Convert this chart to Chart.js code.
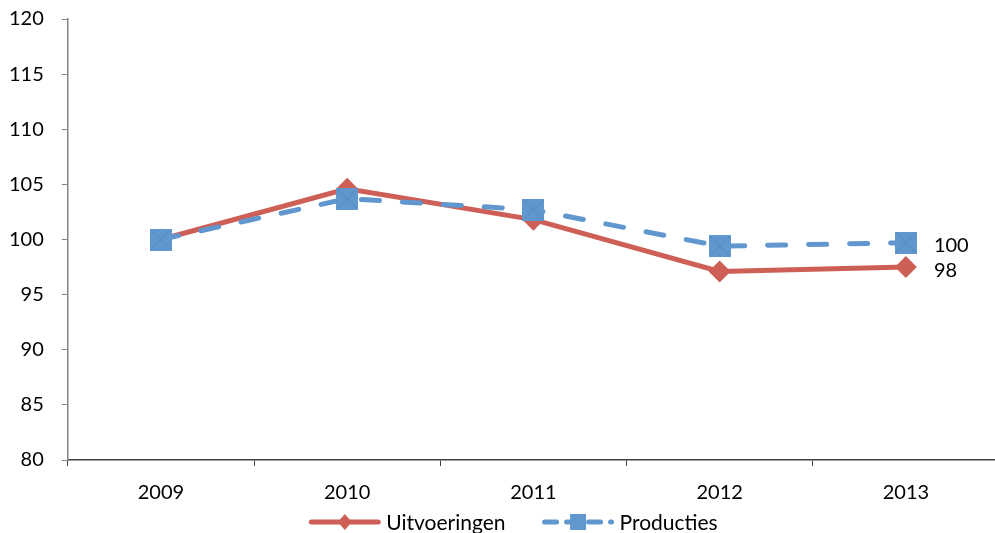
<!DOCTYPE html>
<html>
<head>
<meta charset="utf-8">
<script src="https://cdn.jsdelivr.net/npm/chart.js@4/dist/chart.umd.min.js"></script>
<style>
html,body{margin:0;padding:0;background:#fff;overflow:hidden;}
#wrap{width:1010px;height:544px;position:relative;top:-11px;}
</style>
</head>
<body>
<div id="wrap"><canvas id="c" width="1010" height="544"></canvas></div>
<script>
const years = ['2009','2010','2011','2012','2013'];
const uitvoeringen = [100, 104.6, 101.8, 97.1, 97.5];
const producties = [100, 103.7, 102.7, 99.4, 99.7];
const seriesNames = ['Uitvoeringen', 'Producties'];
const endLabels = ['98', '100'];
const yTicks = [80, 85, 90, 95, 100, 105, 110, 115, 120];

const RED = '#CE5F57';
const BLUE = '#5F97CE';
const FONT = 'Lato, "Open Sans", sans-serif';

function squareMarker(size) {
  const c = document.createElement('canvas');
  c.width = size; c.height = size;
  const g = c.getContext('2d');
  g.fillStyle = BLUE; g.fillRect(0, 0, size, size);
  g.strokeStyle = '#4E86BE'; g.lineWidth = 0.8;
  g.beginPath(); g.moveTo(1,1); g.lineTo(size-1,size-1); g.moveTo(size-1,1); g.lineTo(1,size-1); g.stroke();
  return c;
}
const sq = squareMarker(22);

// custom legend drawn below the axis labels
const legendPlugin = {
  id: 'customLegend',
  afterDraw(chart) {
    const ctx = chart.ctx;
    const y = chart.chartArea.bottom + 62;
    ctx.save();
    ctx.font = '21px ' + FONT;
    const iconW = 73, gapText = 5, gapItem = 36;
    const w0 = ctx.measureText(seriesNames[0]).width;
    const w1 = ctx.measureText(seriesNames[1]).width;
    const total = iconW + gapText + w0 + gapItem + iconW + gapText + w1;
    let x = 513 - total / 2;
    const items = [
      { color: RED, marker: 'diamond', dash: [], text: seriesNames[0], w: w0 },
      { color: BLUE, marker: 'square', dash: [12, 10], text: seriesNames[1], w: w1 }
    ];
    items.forEach(it => {
      ctx.strokeStyle = it.color; ctx.lineWidth = 5; ctx.lineCap = 'round';
      ctx.setLineDash(it.dash);
      ctx.beginPath(); ctx.moveTo(x + 3, y); ctx.lineTo(x + iconW - 3, y); ctx.stroke();
      ctx.setLineDash([]);
      ctx.fillStyle = it.color;
      const cx = x + iconW / 2;
      if (it.marker === 'diamond') {
        ctx.beginPath(); ctx.moveTo(cx, y - 8); ctx.lineTo(cx + 7, y); ctx.lineTo(cx, y + 8); ctx.lineTo(cx - 7, y); ctx.closePath(); ctx.fill();
      } else {
        ctx.fillRect(cx - 8, y - 8, 16, 16);
      }
      ctx.fillStyle = '#000';
      ctx.textAlign = 'left'; ctx.textBaseline = 'middle';
      ctx.fillText(it.text, x + iconW + gapText, y + 1);
      x += iconW + gapText + it.w + gapItem;
    });
    ctx.restore();
  }
};

const endLabelPlugin = {
  id: 'endLabels',
  afterDatasetsDraw(chart) {
    const ctx = chart.ctx;
    ctx.save();
    ctx.font = '20px ' + FONT;
    ctx.fillStyle = '#000';
    ctx.textAlign = 'left';
    ctx.textBaseline = 'middle';
    [0, 1].forEach(i => {
      const meta = chart.getDatasetMeta(i);
      const p = meta.data[meta.data.length - 1];
      ctx.fillText(endLabels[i], p.x + 28, p.y + 3);
    });
    ctx.restore();
  }
};

new Chart(document.getElementById('c'), {
  type: 'line',
  data: {
    labels: years,
    datasets: [
      {
        label: seriesNames[0],
        data: uitvoeringen,
        order: 1,
        borderColor: RED,
        backgroundColor: RED,
        borderWidth: 5,
        pointStyle: 'rectRot',
        pointRadius: 11,
        pointHoverRadius: 11,
        pointBorderWidth: 0,
        tension: 0
      },
      {
        label: seriesNames[1],
        data: producties,
        order: 0,
        borderColor: BLUE,
        backgroundColor: BLUE,
        borderWidth: 5,
        borderDash: [18, 23],
        borderCapStyle: 'round',
        pointStyle: sq,
        pointRadius: 11,
        pointBorderWidth: 0,
        tension: 0
      }
    ]
  },
  options: {
    responsive: false,
    animation: false,
    devicePixelRatio: 1,
    layout: { padding: { left: -9, right: 5, top: 0, bottom: 13 } },
    plugins: {
      tooltip: { enabled: false },
      legend: { display: false }
    },
    scales: {
      x: {
        offset: true,
        grid: { offset: true, drawOnChartArea: false, drawTicks: true, tickLength: 6, color: '#404040' },
        border: { color: '#404040', width: 1.5 },
        ticks: { font: { family: FONT, size: 20 }, color: '#000', padding: 15, maxRotation: 0 }
      },
      y: {
        min: 80, max: 120,
        afterBuildTicks(axis) { axis.ticks = yTicks.map(v => ({ value: v })); },
        grid: { drawOnChartArea: false, drawTicks: true, tickLength: 6, color: '#868686' },
        border: { color: '#868686', width: 1.5 },
        ticks: { font: { family: FONT, size: 20 }, color: '#000', padding: 18 }
      }
    }
  },
  plugins: [endLabelPlugin, legendPlugin]
});
</script>
</body>
</html>
